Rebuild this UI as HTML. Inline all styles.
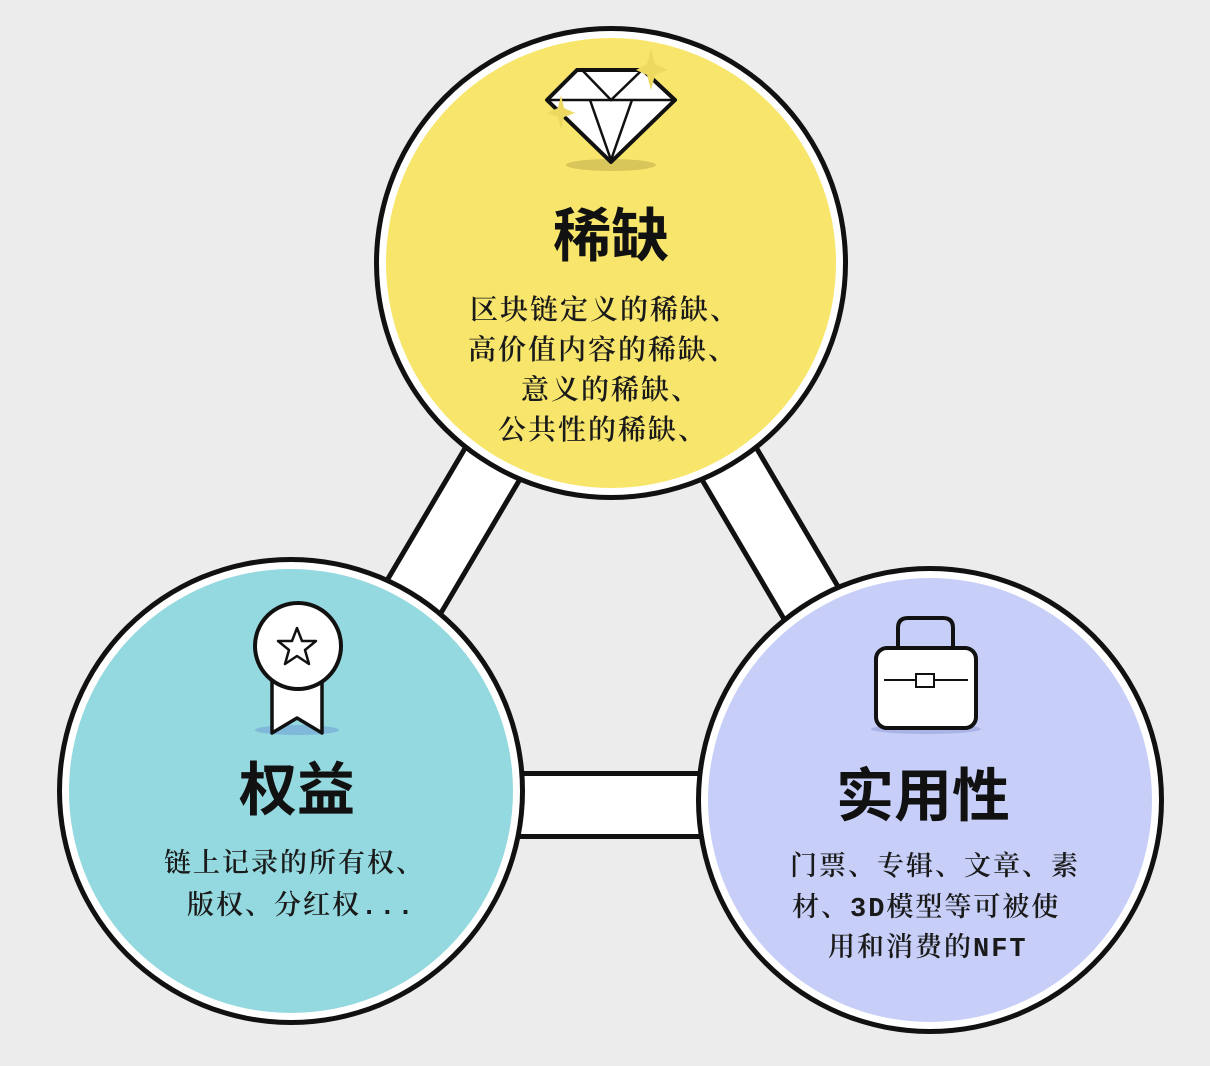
<!DOCTYPE html>
<html><head><meta charset="utf-8"><style>
html,body{margin:0;padding:0;background:#ececec;}
svg{display:block;}
.t{font-family:"Liberation Sans","Noto Sans CJK SC",sans-serif;font-weight:bold;fill:#111;}
.b{font-family:"Liberation Mono","Noto Serif CJK SC",serif;fill:#1a1a1a;font-weight:600;letter-spacing:2px;}
</style></head><body>
<svg width="1210" height="1066" viewBox="0 0 1210 1066">
<rect width="1210" height="1066" fill="#ececec"/>
<g>
<polygon points="611,263 291,805 930,805" fill="none" stroke="#111" stroke-width="68" stroke-linejoin="miter"/>
<polygon points="611,263 291,805 930,805" fill="none" stroke="#fff" stroke-width="58" stroke-linejoin="miter"/>
</g>
<g>
<circle cx="611" cy="263" r="237" fill="#111"/>
<circle cx="611" cy="263" r="232" fill="#fff"/>
<circle cx="611" cy="263" r="225" fill="#f8e66c"/>
</g>
<g>
<circle cx="291" cy="791" r="234" fill="#111"/>
<circle cx="291" cy="791" r="229" fill="#fff"/>
<circle cx="291" cy="791" r="222" fill="#93d9df"/>
</g>
<g>
<circle cx="930" cy="800" r="234" fill="#111"/>
<circle cx="930" cy="800" r="229" fill="#fff"/>
<circle cx="930" cy="800" r="222" fill="#c7cef8"/>
</g>
<g>
<ellipse cx="611" cy="165" rx="45" ry="6" fill="#d8c65a"/>
<polygon points="577,70 643,70 675,100 611,162 547,100" fill="#fff" stroke="#111" stroke-width="4" stroke-linejoin="round"/>
<line x1="549" y1="100" x2="673" y2="100" stroke="#111" stroke-width="2.5"/>
<polyline points="583,71 611,100 641,71" fill="none" stroke="#111" stroke-width="2.5"/>
<polyline points="590,100 611,160 632,100" fill="none" stroke="#111" stroke-width="2.5"/>
<path d="M651,48 L655,64 L668,70 L655,75 L651,90 L647,75 L636,70 L647,64Z" fill="#eed960"/>
<path d="M561,95 L564,108 L575,113 L564,117 L561,130 L558,117 L547,113 L558,108Z" fill="#eed960"/>
</g>
<g>
<ellipse cx="297" cy="730" rx="42" ry="5" fill="#7fb8d8"/>
<polygon points="272,680 322,680 322,733 297,718 272,733" fill="#fff" stroke="#111" stroke-width="3.5" stroke-linejoin="round"/>
<circle cx="298" cy="646" r="43" fill="#fff" stroke="#111" stroke-width="4"/>
<polygon points="297,628 302,641 316,641 305,650 309,664 297,656 285,664 289,650 278,641 292,641" fill="#fff" stroke="#111" stroke-width="2.5" stroke-linejoin="round"/>
</g>
<g>
<ellipse cx="926" cy="729" rx="55" ry="5" fill="#aab3e6"/>
<path d="M898,648 V628 Q898,618 908,618 H943 Q953,618 953,628 V648" fill="none" stroke="#111" stroke-width="4"/>
<rect x="876" y="648" width="100" height="80" rx="11" fill="#fff" stroke="#111" stroke-width="4"/>
<line x1="884" y1="680" x2="968" y2="680" stroke="#111" stroke-width="2"/>
<rect x="916" y="674" width="18" height="13" fill="#fff" stroke="#111" stroke-width="2"/>
</g>
<text class="t" x="611" y="256" font-size="58" text-anchor="middle">稀缺</text>
<g class="b" font-size="28">
<text x="470" y="319">区块链定义的稀缺、</text>
<text x="468" y="359">高价值内容的稀缺、</text>
<text x="521" y="399">意义的稀缺、</text>
<text x="498" y="439">公共性的稀缺、</text>
</g>
<text class="t" x="297" y="810" font-size="58" text-anchor="middle">权益</text>
<g class="b" font-size="27">
<text x="164" y="872">链上记录的所有权、</text>
<text x="187" y="914">版权、分红权...</text>
</g>
<text class="t" x="923" y="816" font-size="58" text-anchor="middle">实用性</text>
<g class="b" font-size="27">
<text x="790" y="875">门票、专辑、文章、素</text>
<text x="792" y="916">材、3D模型等可被使</text>
<text x="828" y="956">用和消费的NFT</text>
</g>
</svg>
</body></html>
